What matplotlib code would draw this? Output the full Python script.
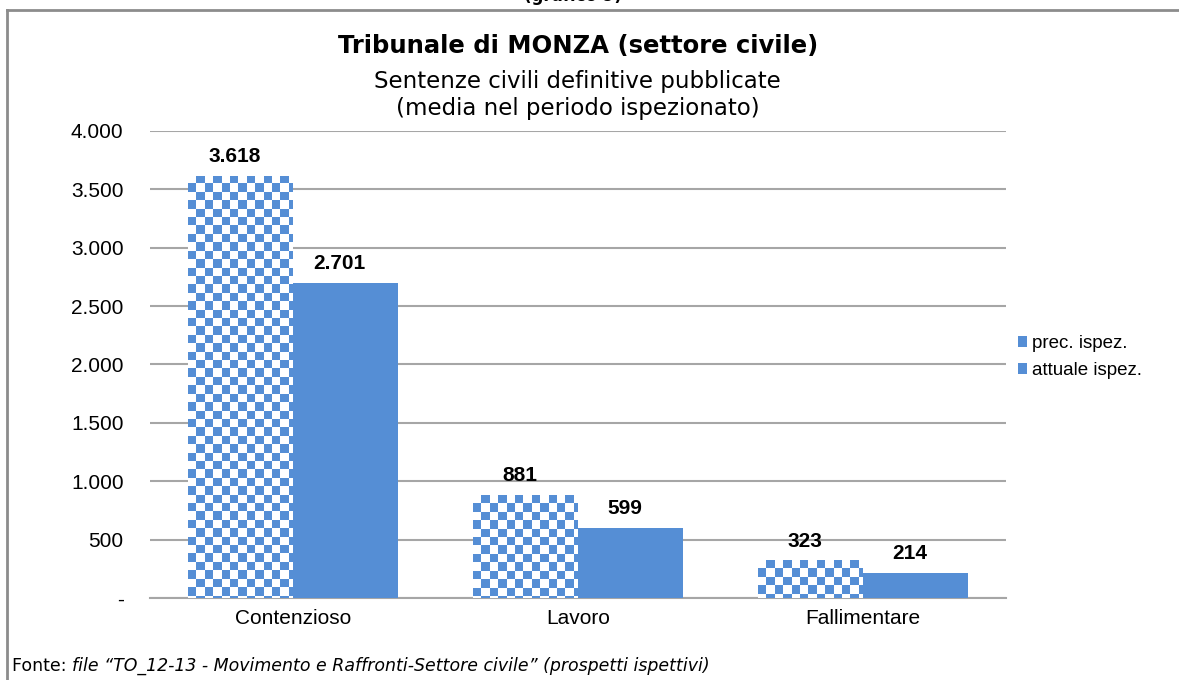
import numpy as np
import matplotlib
matplotlib.use('Agg')
import matplotlib.pyplot as plt
from matplotlib.patches import Patch
from matplotlib.lines import Line2D

# Dati
categorie = ['Contenzioso', 'Lavoro', 'Fallimentare']
prec_ispez = [3618, 881, 323]
attuale_ispez = [2701, 599, 214]
y_ticks = [0, 500, 1000, 1500, 2000, 2500, 3000, 3500, 4000]
y_labels = ['-', '500', '1.000', '1.500', '2.000', '2.500', '3.000', '3.500', '4.000']

BLU = '#558ED5'
GRIGIO = '#A6A6A6'


def fmt_it(v):
    return f'{v:,}'.replace(',', '.')


fig = plt.figure(figsize=(11.79, 6.8), dpi=100)
fig.patch.set_facecolor('white')
ax = fig.add_axes([0.1272, 0.1206, 0.7260, 0.6868])

x = np.arange(len(categorie))
w = 0.368
bars_p = ax.bar(x - w / 2, prec_ispez, w, color='white', edgecolor='none', zorder=3)
bars_a = ax.bar(x + w / 2, attuale_ispez, w, color=BLU, edgecolor='none', zorder=3)

# scacchiera dentro le barre "prec. ispez."
ax_w_px = fig.get_figwidth() * fig.dpi * 0.7260
ax_h_px = fig.get_figheight() * fig.dpi * 0.6868
cell = 8.4
cw = cell * 3.0 / ax_w_px
ch = cell * 4000.0 / ax_h_px
for b in bars_p:
    x0, h = b.get_x(), b.get_height()
    nx = int(np.ceil(b.get_width() / cw)) + 1
    ny = int(np.ceil(h / ch)) + 1
    grid = (np.add.outer(np.arange(ny), np.arange(nx)) % 2).astype(float)
    img = ax.imshow(grid, cmap=matplotlib.colors.ListedColormap(['white', BLU]),
                    extent=(x0, x0 + nx * cw, h - ny * ch, h), origin='upper',
                    interpolation='nearest', zorder=3, aspect='auto')
    img.set_clip_path(b)
ax.set_xlim(-0.5, 2.5)
ax.set_ylim(0, 4000)

# etichette valori
for bars in (bars_p, bars_a):
    for b in bars:
        ax.annotate(fmt_it(int(b.get_height())),
                    (b.get_x() + b.get_width() / 2 - 0.02, b.get_height()),
                    xytext=(0, 7), textcoords='offset points',
                    ha='center', va='bottom', fontsize=15, fontweight='bold',
                    family='Liberation Sans', zorder=5)

ax.set_yticks(y_ticks)
ax.set_yticklabels(y_labels, family='Liberation Sans', fontsize=15)
ax.set_xticks(x)
ax.set_xticklabels(categorie, family='Liberation Sans', fontsize=15)
ax.tick_params(axis='y', length=0, pad=19)
ax.tick_params(axis='x', length=0, pad=8)
ax.yaxis.grid(True, color=GRIGIO, lw=1.5, zorder=0)
ax.set_axisbelow(True)
for s in ('top', 'right', 'left'):
    ax.spines[s].set_visible(False)
ax.spines['bottom'].set_color(GRIGIO)
ax.spines['bottom'].set_linewidth(1.5)

# legenda
handles = [Patch(facecolor=BLU, label='prec. ispez.'),
           Patch(facecolor=BLU, label='attuale ispez.')]
fig.legend(handles=handles, loc='center left', bbox_to_anchor=(0.849, 0.475),
           frameon=False, prop={'family': 'Liberation Sans', 'size': 13.5},
           handlelength=0.5, handleheight=0.5, handletextpad=0.25,
           labelspacing=0.55)

# titoli
fig.text(0.49, 0.933, 'Tribunale di MONZA (settore civile)', ha='center', va='center',
         fontsize=17.5, fontweight='bold', family='DejaVu Sans')
fig.text(0.49, 0.861, 'Sentenze civili definitive pubblicate\n(media nel periodo ispezionato)',
         ha='center', va='center', fontsize=16.5, family='DejaVu Sans', linespacing=1.22)
fig.text(0.486, 1.006, '(grafico 9)', ha='center', va='center', fontsize=12,
         fontweight='bold', family='DejaVu Sans')

# nota
t1 = fig.text(0.010, 0.021, 'Fonte: ', ha='left', va='center', fontsize=12.5,
              family='DejaVu Sans')
fig.canvas.draw()
bb = t1.get_window_extent()
fig.text(bb.x1 / (fig.get_figwidth() * fig.dpi), 0.021,
         'file \u201cTO_12-13 - Movimento e Raffronti-Settore civile\u201d (prospetti ispettivi)',
         ha='left', va='center', fontsize=12.5, family='DejaVu Sans', style='italic')

# cornice
fig.add_artist(Line2D([0.006, 0.006], [0.0, 0.985], color='#8C8C8C', lw=2))
fig.add_artist(Line2D([0.006, 1.0], [0.985, 0.985], color='#8C8C8C', lw=2))

fig.savefig('out.png', dpi=100, facecolor='white')
